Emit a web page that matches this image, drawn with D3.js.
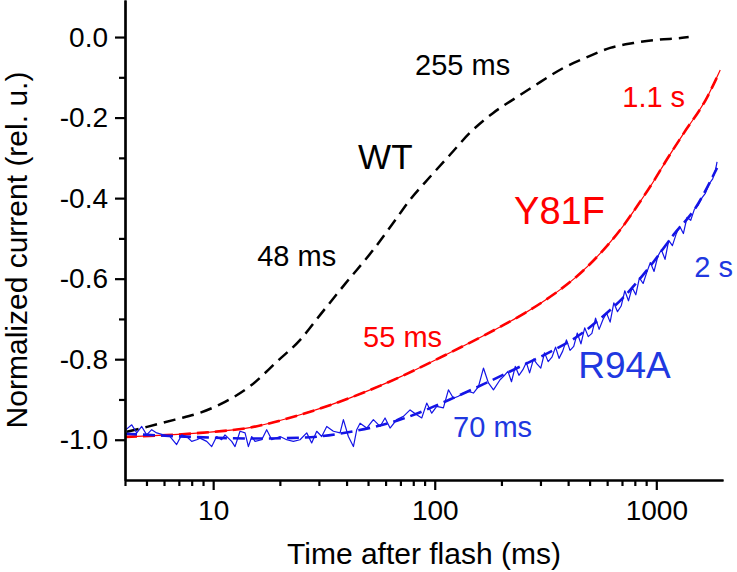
<!DOCTYPE html>
<html><head><meta charset="utf-8">
<script src="https://cdn.jsdelivr.net/npm/d3@7"></script>
<style>body{margin:0;background:#fff;} svg{display:block;} text{font-family:"Liberation Sans",Arial,sans-serif;}</style>
</head><body><svg id="c" width="737" height="572"></svg>
<script>
const xMajorTicks = [10, 100, 1000];
const xMinorTicks = [4,5,6,7,8,9,20,30,40,50,60,70,80,90,200,300,400,500,600,700,800,900];
const yMajorTicks = [0, -0.2, -0.4, -0.6, -0.8, -1.0];
const yMinorTicks = [-0.1, -0.3, -0.5, -0.7, -0.9];

// WT fit (black dashed)
const wtFit = [[4.08,-0.980],[5.03,-0.968],[6.73,-0.950],[8.73,-0.933],[11.31,-0.906],[14.6,-0.868],[19.4,-0.806],[24.7,-0.752],[30.4,-0.690],[39.4,-0.613],[52.7,-0.529],[64.9,-0.462],[77.4,-0.404],[95.3,-0.347],[117,-0.293],[144,-0.238],[183,-0.189],[235,-0.149],[299,-0.112],[380,-0.077],[487,-0.050],[619,-0.027],[786,-0.015],[1009,-0.007],[1309,-0.002],[1400,0.0]];

// Y81F data and fit (red)
const y81fData = [[4,-0.993],[8.73,-0.983],[14.6,-0.970],[24.7,-0.938],[41.5,-0.896],[69.8,-0.844],[117,-0.784],[197,-0.720],[256,-0.685],[332,-0.645],[430,-0.598],[557,-0.538],[687,-0.479],[845,-0.409],[968,-0.360],[1119,-0.303],[1322,-0.241],[1698,-0.149],[1943,-0.082]];
const y81fFit = [[4,-0.993],[8.73,-0.983],[14.6,-0.970],[24.7,-0.938],[41.5,-0.896],[69.8,-0.844],[117,-0.784],[197,-0.720],[256,-0.685],[332,-0.645],[430,-0.598],[557,-0.538],[687,-0.479],[845,-0.409],[968,-0.360],[1119,-0.303],[1322,-0.241],[1698,-0.149],[1900,-0.094]];

// R94A data (blue, noisy) and fit
const r94aData = [[4.04,-0.975],[4.29,-0.963],[4.52,-0.983],[4.76,-0.967],[5.01,-0.988],[5.28,-0.975],[5.56,-0.983],[5.96,-0.988],[6.39,-0.992],[6.84,-1.012],[7.21,-0.988],[7.59,-0.992],[8.00,-1.004],[8.43,-1.000],
[8.72,-0.996],[9.35,-1.004],[9.85,-1.017],[10.37,-0.992],[10.92,-1.000],[11.31,-0.988],[11.71,-0.996],[12.12,-1.004],[12.55,-1.017],[13.22,-0.979],[13.93,-0.983],[14.42,-1.017],[14.93,-0.992],[15.45,-1.004],[16.56,-1.000],[17.44,-0.975],[18.38,-1.000],[20.04,-0.992],[21.48,-1.000],[23.01,-1.004],[24.66,-1.000],[26.44,-0.983],[27.84,-1.008],[29.33,-0.979],[30.90,-0.992],[32.55,-0.967],[34.88,-0.979],[37.38,-0.983],[38.70,-0.950],[40.76,-0.992],[42.95,-1.017],[44.46,-0.975],[46.03,-0.959],[49.32,-0.971],[52.85,-0.950],[56.64,-0.967],[59.67,-0.946],[62.86,-0.971],[67.36,-0.950],[72.22,-0.942],[77.39,-0.926],[82.94,-0.938],[87.37,-0.946],[92.02,-0.909],[96.94,-0.934],[102.1,-0.917],[109.4,-0.921],[115.3,-0.876],[121.4,-0.897],[127.9,-0.892],[134.8,-0.884],[141.9,-0.880],[149.5,-0.884],[157.5,-0.868],[165.9,-0.822],[174.7,-0.859],[184.1,-0.876],[197.2,-0.851],
[205,-0.842],[214,-0.830],[222,-0.856],[231,-0.818],[240,-0.840],[250,-0.826],[259,-0.808],[268,-0.834],[279,-0.800],[290,-0.812],[301,-0.822],[313,-0.784],[325,-0.806],[338,-0.795],[351,-0.770],[364,-0.798],[378,-0.780],[393,-0.752],[408,-0.778],[424,-0.768],[440,-0.735],[457,-0.762],[475,-0.722],[493,-0.744],[512,-0.736],[532,-0.698],[552,-0.726],[574,-0.702],[596,-0.685],[619,-0.708],[643,-0.660],[668,-0.682],[694,-0.668],[721,-0.630],[749,-0.655],[778,-0.622],[808,-0.640],[839,-0.598],[872,-0.612],[905,-0.585],[940,-0.560],[977,-0.582],[1015,-0.545],[1054,-0.528],[1095,-0.552],[1138,-0.505],[1182,-0.518],[1228,-0.490],[1275,-0.470],[1325,-0.488],[1376,-0.448],[1430,-0.455],[1485,-0.428],[1543,-0.418],[1603,-0.400],[1665,-0.388],[1730,-0.365],[1797,-0.352],[1850,-0.330],[1880,-0.310]];
const r94aFit = [[4,-0.985],[8,-0.993],[15,-0.997],[25,-0.995],[40,-0.982],[70,-0.950],[117,-0.900],[166,-0.862],[250,-0.815],[332,-0.782],[450,-0.740],[557,-0.700],[700,-0.650],[935,-0.570],[1200,-0.490],[1500,-0.425],[1880,-0.325]];

const labels = [
  {text:"255 ms", t:81.5, v:-0.094, size:29, color:"#000"},
  {text:"WT", t:45.1, v:-0.328, size:35, color:"#000"},
  {text:"48 ms", t:15.8, v:-0.568, size:29, color:"#000"},
  {text:"1.1 s", t:702, v:-0.174, size:29, color:"#f00"},
  {text:"Y81F", t:228, v:-0.464, size:38, color:"#f00"},
  {text:"55 ms", t:47.5, v:-0.769, size:29, color:"#f00"},
  {text:"2 s", t:1483, v:-0.596, size:29, color:"#2038e0"},
  {text:"R94A", t:444, v:-0.846, size:37, color:"#2038e0"},
  {text:"70 ms", t:121, v:-0.993, size:29, color:"#2038e0"}
];

const svg = d3.select("#c");
const x = d3.scaleLog().domain([4, 2000]).range([125, 723]);
const y = d3.scaleLinear().domain([-1.1, 0.092]).range([480, 0]);

const lineS = d3.line().x(d => x(d[0])).y(d => y(d[1])).curve(d3.curveMonotoneX);
const lineL = d3.line().x(d => x(d[0])).y(d => y(d[1]));

// WT
svg.append("path").datum(wtFit).attr("d", lineS)
  .attr("fill","none").attr("stroke","#000").attr("stroke-width",2.5).attr("stroke-dasharray","12,7");

// Y81F
svg.append("path").datum(y81fData).attr("d", lineS)
  .attr("fill","none").attr("stroke","#f00").attr("stroke-width",1.2);
svg.append("path").datum(y81fFit).attr("d", lineS)
  .attr("fill","none").attr("stroke","#f00").attr("stroke-width",2.6).attr("stroke-dasharray","12,6");

// R94A
svg.append("path").datum(r94aData).attr("d", lineL)
  .attr("fill","none").attr("stroke","#1414e6").attr("stroke-width",1.2).attr("stroke-linejoin","round");
svg.append("path").datum(r94aFit).attr("d", lineS)
  .attr("fill","none").attr("stroke","#1414e6").attr("stroke-width",2.6).attr("stroke-dasharray","12,6");

// Axes
const fmt = d => d.toFixed(1);
const gy = svg.append("g").attr("transform","translate(125,0)");
gy.call(d3.axisLeft(y).tickValues(yMajorTicks).tickFormat(fmt).tickSize(10).tickSizeOuter(0).tickPadding(7));
const gy2 = svg.append("g").attr("transform","translate(125,0)");
gy2.call(d3.axisLeft(y).tickValues(yMinorTicks).tickFormat("").tickSize(6).tickSizeOuter(0));
const gx = svg.append("g").attr("transform","translate(0,480)");
gx.call(d3.axisBottom(x).tickValues(xMajorTicks).tickFormat(d3.format("d")).tickSize(10).tickSizeOuter(0).tickPadding(10));
const gx2 = svg.append("g").attr("transform","translate(0,480)");
gx2.call(d3.axisBottom(x).tickValues(xMinorTicks).tickFormat("").tickSize(6).tickSizeOuter(0));
svg.selectAll(".domain").attr("stroke","#000").attr("stroke-width",2.2);
svg.selectAll(".tick line").attr("stroke","#000").attr("stroke-width",2.2);
svg.selectAll(".tick text").attr("font-size",28).attr("fill","#000").style("font-family",'"Liberation Sans",Arial,sans-serif');

// Axis titles
svg.append("text").attr("x",424).attr("y",564).attr("text-anchor","middle")
  .attr("font-size",30).text("Time after flash (ms)");
svg.append("text").attr("transform","translate(27,250) rotate(-90)").attr("text-anchor","middle")
  .attr("font-size",30).text("Normalized current (rel. u.)");

// Annotations
svg.selectAll("text.lab").data(labels).enter().append("text").attr("class","lab")
  .attr("x", d => x(d.t)).attr("y", d => y(d.v)).attr("font-size", d => d.size)
  .attr("fill", d => d.color).text(d => d.text);
</script></body></html>
